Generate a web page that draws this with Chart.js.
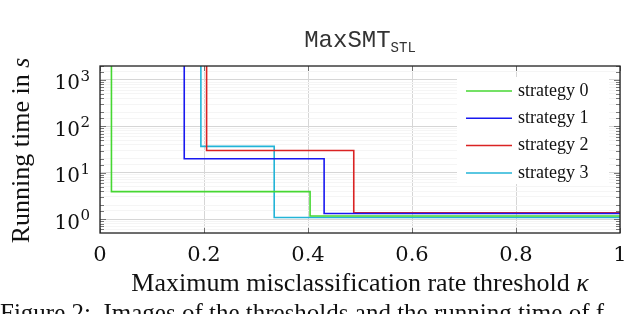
<!DOCTYPE html>
<html lang="en">
<head>
    <meta charset="UTF-8">
    <title>MaxSMT STL running time</title>
    <style>
        body {
            margin: 0;
            padding: 0;
            background: #fff;
        }
        #wrap {
            width: 640px;
            height: 314px;
            position: relative;
        }
    </style>
</head>
<body>
    <div id="wrap">
        <canvas id="timeChart"></canvas>
    </div>

    <script src="https://cdn.jsdelivr.net/npm/chart.js"></script>
    <script>
        // data: each strategy is a step curve
        // (threshold where the running time drops, running time after the drop)
        const seriesNames = ['strategy 0', 'strategy 1', 'strategy 2', 'strategy 3'];
        const seriesColors = ['rgb(70, 215, 50)', 'rgb(25, 25, 240)', 'rgb(218, 35, 35)', 'rgb(35, 180, 215)'];

        const thresholds0 = [0.022, 0.404, 1];
        const times0 = [2000, 3.9, 1.16];
        const thresholds1 = [0.162, 0.431, 1];
        const times1 = [2000, 20, 1.32];
        const thresholds2 = [0.205, 0.488, 1];
        const times2 = [2000, 30, 1.36];
        const thresholds3 = [0.194, 0.335, 1];
        const times3 = [2000, 37, 1.08];

        const xTickLabels = ['0', '0.2', '0.4', '0.6', '0.8', '1'];
        const yTickExponents = [0, 1, 2, 3];

        const allThresholds = [thresholds0, thresholds1, thresholds2, thresholds3];
        const allTimes = [times0, times1, times2, times3];

        const serif = '"Liberation Serif", "DejaVu Serif", serif';
        const tickFont = '"DejaVu Serif", serif';
        const mono = '"Liberation Mono", "DejaVu Sans Mono", monospace';

        function isDecade(v) {
            const l = Math.log10(v);
            return Math.abs(l - Math.round(l)) < 1e-6;
        }

        // frame, inner ticks, labels, legend and titles in pgfplots style
        const figurePlugin = {
            id: 'figure',
            afterDatasetsDraw(chart) {
                const c = chart.ctx;
                const a = chart.chartArea;
                const xs = chart.scales.x;
                const ys = chart.scales.y;
                c.save();

                // inner tick marks on the y axis (left and right)
                c.strokeStyle = '#555';
                c.lineWidth = 0.8;
                ys.ticks.forEach(t => {
                    const py = Math.round(ys.getPixelForValue(t.value)) + 0.5;
                    if (py < a.top || py > a.bottom) return;
                    const len = isDecade(t.value) ? 6 : 4;
                    c.beginPath();
                    c.moveTo(a.left, py); c.lineTo(a.left + len, py);
                    c.moveTo(a.right, py); c.lineTo(a.right - len, py);
                    c.stroke();
                });
                // inner tick marks on the x axis (top and bottom)
                xTickLabels.forEach(lab => {
                    const px = Math.round(xs.getPixelForValue(parseFloat(lab))) + 0.5;
                    c.beginPath();
                    c.moveTo(px, a.bottom); c.lineTo(px, a.bottom - 5);
                    c.moveTo(px, a.top); c.lineTo(px, a.top + 5);
                    c.stroke();
                });

                // frame
                c.strokeStyle = '#222';
                c.lineWidth = 1.3;
                c.strokeRect(a.left, a.top, a.right - a.left, a.bottom - a.top);

                // legend box
                const lx = 457, ly = 77, lw = 152, lh = 107;
                c.fillStyle = '#fff';
                c.fillRect(lx, ly, lw, lh);
                c.font = '18px ' + serif;
                c.textBaseline = 'middle';
                chart.data.datasets.forEach((ds, i) => {
                    const cy = ly + 14 + i * 27.3;
                    c.strokeStyle = ds.borderColor;
                    c.lineWidth = 1.5;
                    c.beginPath();
                    c.moveTo(lx + 9, cy); c.lineTo(lx + 55, cy);
                    c.stroke();
                    c.fillStyle = '#111';
                    c.textAlign = 'left';
                    c.fillText(ds.label, lx + 61, cy);
                });

                // x tick labels
                c.fillStyle = '#111';
                c.font = '21px ' + tickFont;
                c.textAlign = 'center';
                c.textBaseline = 'alphabetic';
                xTickLabels.forEach(lab => {
                    c.fillText(lab, xs.getPixelForValue(parseFloat(lab)), 261);
                });

                // y tick labels with exponent
                yTickExponents.forEach(e => {
                    const py = ys.getPixelForValue(Math.pow(10, e));
                    c.textAlign = 'right';
                    c.font = '15px ' + tickFont;
                    const ew = c.measureText(String(e)).width;
                    c.fillText(String(e), 90, py + 1);
                    c.font = '20px ' + tickFont;
                    c.fillText('10', 90 - ew - 0.5, py + 9.5);
                });

                // x axis title with italic kappa
                c.font = '26px ' + serif;
                const xt = 'Maximum misclassification rate threshold ';
                const w1 = c.measureText(xt).width;
                c.font = 'italic 26px ' + serif;
                const w2 = c.measureText('κ').width;
                const sx = (a.left + a.right) / 2 - (w1 + w2) / 2;
                c.textAlign = 'left';
                c.font = '26px ' + serif;
                c.fillText(xt, sx, 291);
                c.font = 'italic 26px ' + serif;
                c.fillText('κ', sx + w1, 291);

                // y axis title, rotated, italic s
                c.save();
                c.translate(29, (a.top + a.bottom) / 2 + 1);
                c.rotate(-Math.PI / 2);
                c.font = '26px ' + serif;
                const yt = 'Running time in ';
                const v1 = c.measureText(yt).width;
                c.font = 'italic 26px ' + serif;
                const v2 = c.measureText('s').width;
                const sy = -(v1 + v2) / 2;
                c.font = '26px ' + serif;
                c.fillText(yt, sy, 0);
                c.font = 'italic 26px ' + serif;
                c.fillText('s', sy + v1, 0);
                c.restore();

                // title MaxSMT with subscript STL
                c.fillStyle = '#333';
                c.font = '24px ' + mono;
                const tw = c.measureText('MaxSMT').width;
                c.font = '14px ' + mono;
                const sw = c.measureText('STL').width;
                const tx = (a.left + a.right) / 2 - (tw + sw) / 2;
                c.font = '24px ' + mono;
                c.fillText('MaxSMT', tx, 47);
                c.font = '14px ' + mono;
                c.fillText('STL', tx + tw, 52);

                // clipped caption below the figure
                c.fillStyle = '#111';
                c.font = '25px ' + serif;
                c.fillText('Figure 2:  Images of the thresholds and the running time of f', 0, 321);

                c.restore();
            }
        };

        const datasets = seriesNames.map((name, i) => ({
            label: name,
            data: allThresholds[i].map((x, j) => ({ x: x, y: allTimes[i][j] })),
            borderColor: seriesColors[i],
            backgroundColor: seriesColors[i],
            borderWidth: 1.6,
            pointRadius: 0,
            stepped: 'after',
            fill: false
        }));

        const ctx = document.getElementById('timeChart').getContext('2d');
        new Chart(ctx, {
            type: 'line',
            data: { datasets: datasets },
            options: {
                responsive: true,
                maintainAspectRatio: false,
                animation: false,
                layout: {
                    padding: { left: 100, right: 20, top: 66, bottom: 81 }
                },
                plugins: {
                    legend: { display: false },
                    tooltip: { enabled: false }
                },
                scales: {
                    x: {
                        type: 'linear',
                        min: 0,
                        max: 1,
                        ticks: { display: false, stepSize: 0.2 },
                        grid: {
                            drawTicks: false,
                            color: '#d6d6d6',
                            lineWidth: 1
                        },
                        border: { display: false }
                    },
                    y: {
                        type: 'logarithmic',
                        min: 0.5,
                        max: 2000,
                        ticks: { display: false, autoSkip: false },
                        grid: {
                            drawTicks: false,
                            color: c => (c.tick && isDecade(c.tick.value)) ? '#d6d6d6' : '#f5f5f5',
                            lineWidth: 1
                        },
                        border: { display: false }
                    }
                }
            },
            plugins: [figurePlugin]
        });
    </script>
</body>
</html>
